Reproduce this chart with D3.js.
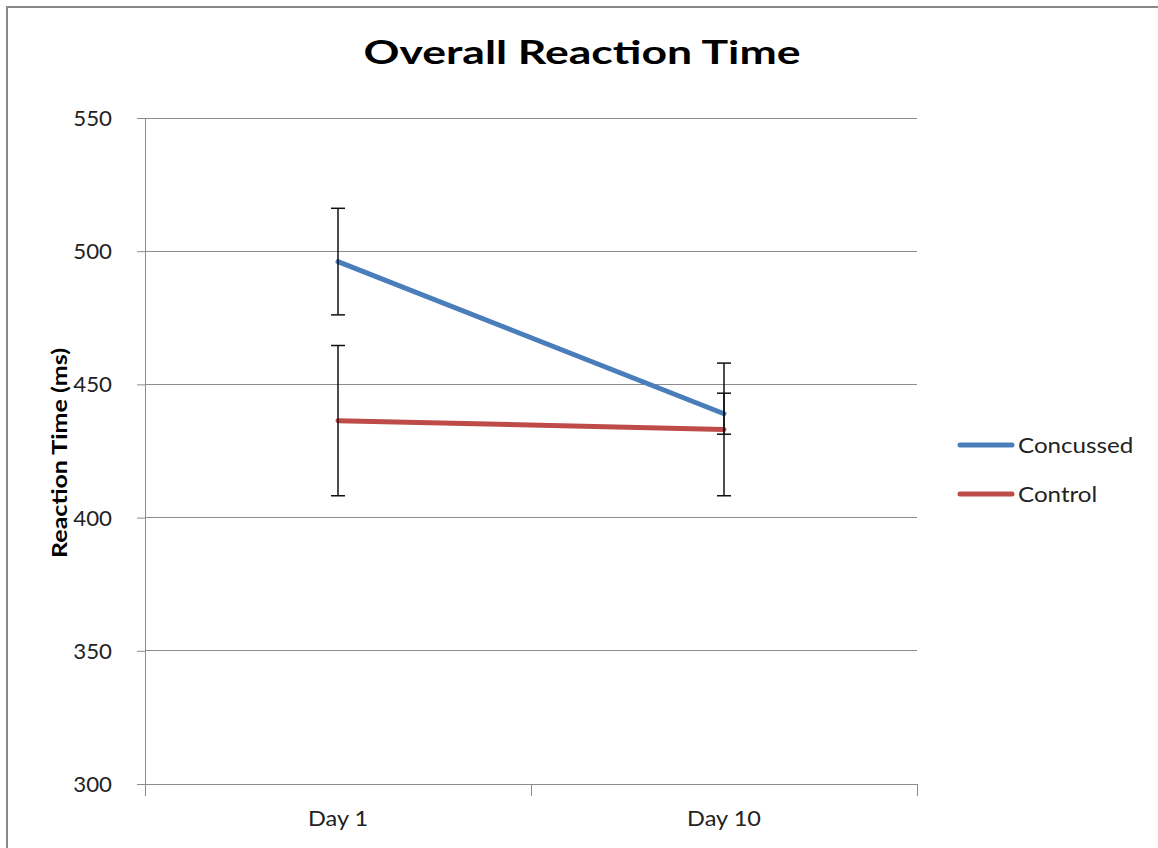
<!DOCTYPE html>
<html><head><meta charset="utf-8">
<script src="https://cdn.jsdelivr.net/npm/d3@7"></script>
<style>body{margin:0;background:#fff}svg{display:block}</style>
</head><body>
<svg id="c" width="1158" height="848"></svg>
<script>
const categories = ["Day 1", "Day 10"];
const concussed = [496.1, 439.0];
const concussedErr = [20.0, 7.7];
const control = [436.4, 433.1];
const controlErr = [28.2, 24.9];
const yTicks = [300, 350, 400, 450, 500, 550];
const seriesNames = ["Concussed", "Control"];
const seriesColors = ["#4a7ebb", "#be4b48"];

const series = [
  {name: seriesNames[0], values: concussed, err: concussedErr, color: seriesColors[0]},
  {name: seriesNames[1], values: control, err: controlErr, color: seriesColors[1]}
];

const svg = d3.select("#c");
const font = "Lato, 'Open Sans', sans-serif";
const L = 145, R = 917, T = 118, B = 784;

function stretch(sel, f) {
  sel.each(function () {
    const w = this.getComputedTextLength();
    d3.select(this).attr("textLength", w * f).attr("lengthAdjust", "spacingAndGlyphs");
  });
}

svg.append("rect").attr("x", 7).attr("y", 7).attr("width", 1170).attr("height", 860)
  .attr("fill", "#fff").attr("stroke", "#898989").attr("stroke-width", 2);

const x = d3.scaleBand().domain(categories).range([L, R]);
const y = d3.scaleLinear().domain([300, 550]).range([B, T]);

// gridlines
svg.append("g").selectAll("line").data(yTicks.filter(t => t !== 300)).join("line")
  .attr("x1", L).attr("x2", R).attr("y1", d => y(d)).attr("y2", d => y(d))
  .attr("stroke", "#8c8c8c").attr("stroke-width", 1).attr("shape-rendering", "crispEdges");

// y axis
const ya = svg.append("g").attr("transform", `translate(${L},0)`)
  .call(d3.axisLeft(y).tickValues(yTicks).tickSize(8).tickPadding(25));
ya.select(".domain").attr("stroke", "#8c8c8c");
ya.selectAll(".tick line").attr("stroke", "#8c8c8c");
ya.selectAll("text").attr("font-family", font).attr("font-size", 21).attr("fill", "#222")
  .attr("dy", "0.36em");
stretch(ya.selectAll("text"), 1.06);

// x axis
const xa = svg.append("g").attr("transform", `translate(0,${B})`)
  .call(d3.axisBottom(x).tickSize(0));
xa.select(".domain").attr("stroke", "#8c8c8c");
xa.selectAll("text").attr("font-family", font).attr("font-size", 21).attr("fill", "#222")
  .attr("y", 42).attr("dy", 0);
stretch(xa.selectAll("text"), 1.12);
// category boundary ticks
const bounds = [L, L + x.step(), R];
svg.append("g").selectAll("line").data(bounds).join("line")
  .attr("x1", d => d).attr("x2", d => d).attr("y1", B).attr("y2", B + 12)
  .attr("stroke", "#8c8c8c").attr("shape-rendering", "crispEdges");

const cx = c => x(c) + x.bandwidth() / 2;

// lines
const line = d3.line().x((d, i) => cx(categories[i])).y(d => y(d));
series.forEach(s => {
  svg.append("path").datum(s.values).attr("d", line)
    .attr("fill", "none").attr("stroke", s.color).attr("stroke-width", 5)
    .attr("stroke-linecap", "round");
});

// error bars
series.forEach(s => {
  const g = svg.append("g").attr("stroke", "#111").attr("stroke-width", 1.5);
  s.values.forEach((v, i) => {
    const px = cx(categories[i]);
    g.append("line").attr("x1", px).attr("x2", px).attr("y1", y(v + s.err[i])).attr("y2", y(v - s.err[i]));
    [v + s.err[i], v - s.err[i]].forEach(e => {
      g.append("line").attr("x1", px - 7).attr("x2", px + 7).attr("y1", y(e)).attr("y2", y(e));
    });
  });
});

// title
const title = svg.append("text").attr("x", 582).attr("y", 64).attr("text-anchor", "middle")
  .attr("font-family", font).attr("font-weight", "bold").attr("font-size", 32)
  .attr("fill", "#000").text("Overall Reaction Time");
title.attr("textLength", 437).attr("lengthAdjust", "spacingAndGlyphs");

// y label
svg.append("text").attr("transform", `translate(67,${453}) rotate(-90)`)
  .attr("text-anchor", "middle").attr("font-family", font).attr("font-weight", "bold")
  .attr("font-size", 20).attr("fill", "#000").text("Reaction Time (ms)")
  .attr("textLength", 210).attr("lengthAdjust", "spacingAndGlyphs");

// legend
const lg = svg.append("g");
series.forEach((s, i) => {
  const ly = 445 + i * 49;
  lg.append("line").attr("x1", 960).attr("x2", 1012).attr("y1", ly).attr("y2", ly)
    .attr("stroke", s.color).attr("stroke-width", 5).attr("stroke-linecap", "round");
  const t = lg.append("text").attr("x", 1018).attr("y", ly + 8).attr("font-family", font)
    .attr("font-size", 21).attr("fill", "#222").text(s.name);
  stretch(t, 1.15);
});
</script>
</body></html>
